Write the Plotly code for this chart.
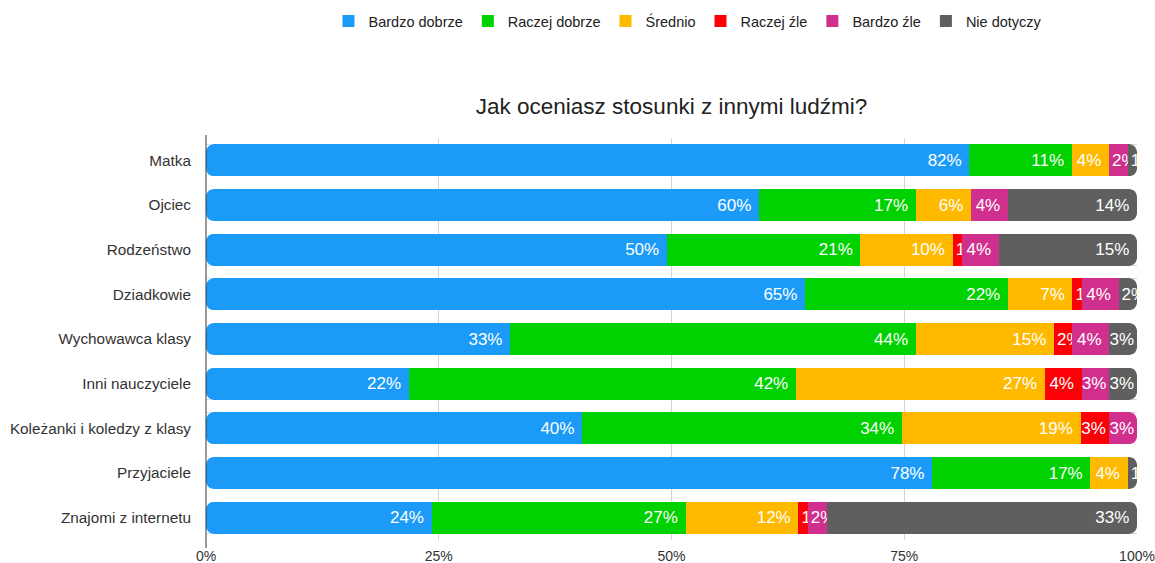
import plotly.graph_objects as go

# ---- data -------------------------------------------------------------
categories = [
    "Matka",
    "Ojciec",
    "Rodzeństwo",
    "Dziadkowie",
    "Wychowawca klasy",
    "Inni nauczyciele",
    "Koleżanki i koledzy z klasy",
    "Przyjaciele",
    "Znajomi z internetu",
]

series_names = ["Bardzo dobrze", "Raczej dobrze", "Średnio", "Raczej źle", "Bardzo źle", "Nie dotyczy"]

bardzo_dobrze = [82, 60, 50, 65, 33, 22, 40, 78, 24]
raczej_dobrze = [11, 17, 21, 22, 44, 42, 34, 17, 27]
srednio = [4, 6, 10, 7, 15, 27, 19, 4, 12]
raczej_zle = [0, 0, 1, 1, 2, 4, 3, 0, 1]
bardzo_zle = [2, 4, 4, 4, 4, 3, 3, 0, 2]
nie_dotyczy = [1, 14, 15, 2, 3, 3, 0, 1, 33]

x_tick_values = [0, 25, 50, 75, 100]
x_tick_labels = ["0%", "25%", "50%", "75%", "100%"]

title_text = "Jak oceniasz stosunki z innymi ludźmi?"

# ---- styling ----------------------------------------------------------
series_values = [bardzo_dobrze, raczej_dobrze, srednio, raczej_zle, bardzo_zle, nie_dotyczy]
series_colors = ["#1b9bf7", "#00d100", "#ffba00", "#fb0007", "#d02f8e", "#5f5f5f"]

FONT = "Liberation Sans, Arial, sans-serif"
WIDTH, HEIGHT = 1155, 563
MARGIN = dict(l=206, r=18, t=138, b=23)
BARGAP = 0.284
CORNER_PX = 8
NARROW_MAX = 2  # segments this small get their label anchored at the start

fig = go.Figure()

for name, values, color in zip(series_names, series_values, series_colors):
    wide = [v if v > NARROW_MAX else 0 for v in values]
    narrow = [v if 0 < v <= NARROW_MAX else 0 for v in values]
    wide_text = [(f"{v}%\u00a0" if v >= 4 else f"{v}%") if v else "" for v in wide]
    narrow_text = [f"{v}%" if v else "" for v in narrow]

    for vals, txt, anchor, show in (
        (wide, wide_text, "end", True),
        (narrow, narrow_text, "start", False),
    ):
        fig.add_trace(
            go.Bar(
                name=name,
                legendgroup=name,
                showlegend=show,
                orientation="h",
                y=categories,
                x=vals,
                text=txt,
                texttemplate="%{text}",
                textposition="inside",
                insidetextanchor=anchor,
                textangle=0,
                constraintext="none",
                textfont=dict(family=FONT, size=17, color="white"),
                marker=dict(color=color, line=dict(width=0)),
                hoverinfo="name+x+y",
            )
        )

# rounded bar ends: white corner masks laid over both ends of every bar
plot_w = WIDTH - MARGIN["l"] - MARGIN["r"]
plot_h = HEIGHT - MARGIN["t"] - MARGIN["b"]
rx = CORNER_PX / plot_w * 100
ry = CORNER_PX / (plot_h / len(categories))
half = (1 - BARGAP) / 2
k = 0.5523


def corner(xc, yc, dx, dy):
    """Mask between the square corner (xc, yc) and a quarter circle."""
    return dict(
        type="path", xref="x", yref="y", layer="above",
        line=dict(width=0), fillcolor="white",
        path=(f"M {xc},{yc} L {xc + dx},{yc} "
              f"C {xc + dx * (1 - k)},{yc} {xc},{yc + dy * (1 - k)} {xc},{yc + dy} Z"),
    )


shapes = []
for i in range(len(categories)):
    top, bot = i - half, i + half
    shapes += [
        corner(0, top, rx, ry),
        corner(0, bot, rx, -ry),
        corner(100, top, -rx, ry),
        corner(100, bot, -rx, -ry),
    ]

# vertical axis line, running a little past the plot area
shapes.append(dict(
    type="line", xref="paper", yref="paper", layer="above",
    x0=0, x1=0, y0=-8 / plot_h, y1=1 + 3 / plot_h,
    line=dict(color="#333333", width=1),
))

fig.update_layout(
    width=WIDTH,
    height=HEIGHT,
    margin=MARGIN,
    barmode="stack",
    barnorm="percent",
    bargap=BARGAP,
    paper_bgcolor="white",
    plot_bgcolor="white",
    font=dict(family=FONT, color="#333333"),
    shapes=shapes,
    title=dict(
        text=title_text,
        x=0.5,
        xref="paper",
        xanchor="center",
        y=1 - 106 / HEIGHT,
        yref="container",
        yanchor="middle",
        font=dict(family=FONT, size=22.5, color="#222222"),
    ),
    legend=dict(
        orientation="h",
        x=688 / WIDTH,
        xref="container",
        xanchor="center",
        y=1 - 5 / HEIGHT,
        yref="container",
        yanchor="top",
        font=dict(family=FONT, size=14.5, color="#222222"),
        traceorder="normal",
        itemclick=False,
    ),
    xaxis=dict(
        range=[0, 100],
        tickvals=x_tick_values,
        ticktext=x_tick_labels,
        showgrid=True,
        gridcolor="#d4d4d4",
        gridwidth=1,
        zeroline=False,
        showline=False,
        automargin=False,
        ticklabelstandoff=6,
        tickfont=dict(family=FONT, size=14, color="#333333"),
        fixedrange=True,
    ),
    yaxis=dict(
        categoryorder="array",
        categoryarray=categories,
        autorange="reversed",
        showgrid=False,
        zeroline=False,
        showline=False,
        automargin=False,
        ticks="",
        ticklabelstandoff=14,
        tickfont=dict(family=FONT, size=15.3, color="#333333"),
        fixedrange=True,
    ),
)

fig.write_html("out.html")
